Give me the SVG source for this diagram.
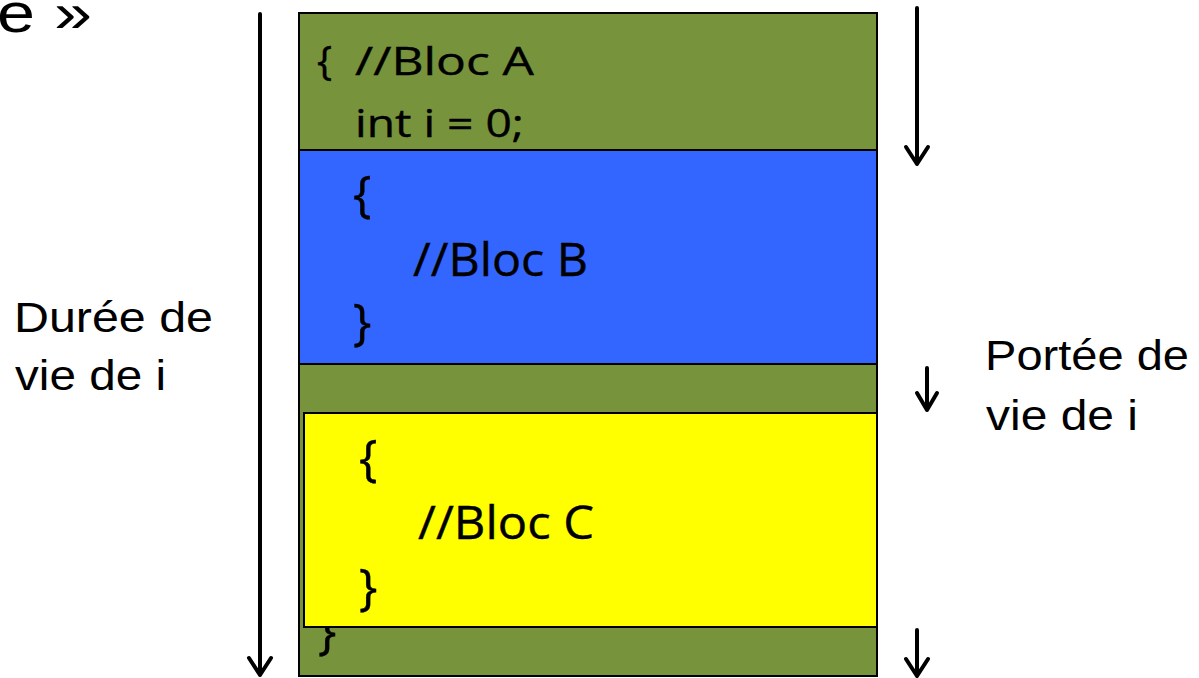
<svg xmlns="http://www.w3.org/2000/svg" width="1199" height="678" viewBox="0 0 1199 678">
<style>
.lbl{font-family:"Liberation Sans",Arial,sans-serif;font-size:43px;fill:#000}
.big{font-size:56px}
.code{font-family:"Open Sans","Liberation Sans",sans-serif;fill:#000;stroke:#000;stroke-width:0.4}
.a{font-size:39px}
.b{font-size:45px}
.bra{font-size:40px}
.br{font-size:49px}
.arr{stroke:#000;stroke-width:4;fill:none;stroke-linecap:round;stroke-linejoin:round}
.box{stroke:#000;stroke-width:2}
</style>
<rect width="1199" height="678" fill="#fff"/>
<text class="lbl big" x="-3" y="32" textLength="95" lengthAdjust="spacingAndGlyphs">e »</text>
<g id="blocA">
<rect class="box" x="299" y="13" width="578" height="663" fill="#77933C"/>
<text class="code bra" x="317" y="75">{</text>
<text class="code a" x="355" y="75" textLength="179" lengthAdjust="spacingAndGlyphs">//Bloc A</text>
<text class="code a" x="355" y="137" textLength="169" lengthAdjust="spacingAndGlyphs">int i = 0;</text>
<text class="code br" x="318" y="648">}</text>
</g>
<g id="blocB">
<rect class="box" x="299" y="150" width="578" height="214" fill="#3366FF"/>
<text class="code br" x="353" y="211">{</text>
<text class="code b" x="413" y="276" textLength="175" lengthAdjust="spacingAndGlyphs">//Bloc B</text>
<text class="code br" x="353" y="339">}</text>
</g>
<g id="blocC">
<rect class="box" x="304" y="413" width="573" height="214" fill="#FFFF00"/>
<text class="code br" x="359" y="475">{</text>
<text class="code b" x="418" y="539" textLength="176" lengthAdjust="spacingAndGlyphs">//Bloc C</text>
<text class="code br" x="359" y="604">}</text>
</g>
<g id="duree">
<text class="lbl" x="14" y="332" textLength="199" lengthAdjust="spacingAndGlyphs">Durée de</text>
<text class="lbl" x="15" y="390" textLength="151" lengthAdjust="spacingAndGlyphs">vie de i</text>
</g>
<g id="portee">
<text class="lbl" x="985" y="370" textLength="204" lengthAdjust="spacingAndGlyphs">Portée de</text>
<text class="lbl" x="986" y="430" textLength="152" lengthAdjust="spacingAndGlyphs">vie de i</text>
</g>
<g id="connectors">
<path class="arr" d="M260 14 V675 M249 658 L260 675 L271 658"/>
<path class="arr" d="M917 8 V164 M906 147 L917 164 L928 147"/>
<path class="arr" d="M927 368 V410 M917 393 L927 410 L937 393"/>
<path class="arr" d="M917 630 V676 M906 659 L917 676 L928 659"/>
</g>
</svg>
